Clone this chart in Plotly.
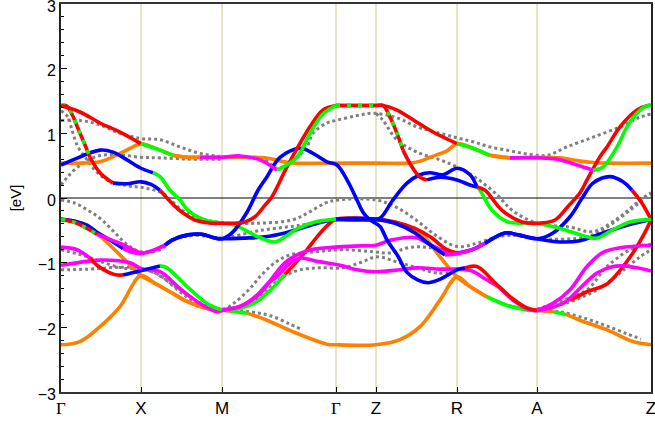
import plotly.graph_objects as go

# k-path: cumulative distance along Γ-X-M-Γ-Z-R-A-Z
kpath_pos = [0, 80, 161, 275, 315, 396, 476, 590]
kpath_labels = ["Γ", "X", "M", "Γ", "Z", "R", "A", "Z"]

# ---- fat bands: k nodes, energies (eV) and dominant character per interval ----
# r=red, g=green, b=blue, m=magenta, o=orange, y=red/green mixed
b1_k = [0, 19, 39, 59, 80, 99, 112, 126, 139, 161, 179, 199, 216, 236, 249, 262, 275, 315, 322, 336, 356, 372,
        396, 412, 429, 449, 476, 496, 516, 532, 542, 556, 566, 579, 587, 590]
b1_e = [1.43, 1.33, 1.16, 1.02, 0.84, 0.74, 0.66, 0.63, 0.63, 0.63, 0.65, 0.59, 0.43, 0.63, 1.0, 1.3, 1.43, 1.43,
        1.43, 1.36, 1.17, 1.02, 0.84, 0.77, 0.66, 0.62, 0.62, 0.60, 0.51, 0.43, 0.48, 0.79, 1.1, 1.36, 1.43, 1.43]
b1_c = "rrrr" + "gg" + "oo" + "mmmm" + "gggg" + "y" + "rrrrr" + "gg" + "o" + "mmmm" + "gggggg"

b2_k = [0, 20, 39, 59, 72, 80, 99, 112, 126, 139, 161, 179, 189, 206, 220, 232, 275, 315, 349, 359, 369, 386, 396,
        412, 429, 449, 476, 499, 519, 532, 549, 590]
b2_e = [0.54, 0.54, 0.56, 0.69, 0.79, 0.84, 0.74, 0.66, 0.63, 0.63, 0.63, 0.63, 0.63, 0.62, 0.57, 0.54, 0.54, 0.54,
        0.54, 0.57, 0.63, 0.73, 0.84, 0.77, 0.66, 0.62, 0.63, 0.62, 0.57, 0.55, 0.54, 0.54]
b2_c = "o" * 31

b3_k = [0, 6, 19, 29, 39, 52, 66, 80, 90, 99, 114, 121, 134, 151, 161, 174, 184, 194, 204, 211, 226, 249, 262, 275,
        315, 322, 329, 336, 342, 351, 359, 366, 379, 396, 409, 416, 424, 441, 461, 477, 494, 507, 519, 526, 539, 546,
        559, 576, 587, 590]
b3_e = [1.43, 1.42, 1.0, 0.63, 0.39, 0.23, 0.22, 0.25, 0.21, 0.12, -0.13, -0.22, -0.34, -0.39, -0.39, -0.39, -0.37,
        -0.29, -0.11, 0.02, 0.48, 1.1, 1.36, 1.43, 1.43, 1.43, 1.25, 1.0, 0.74, 0.48, 0.32, 0.28, 0.32, 0.28, 0.2,
        0.17, 0.12, -0.19, -0.37, -0.39, -0.34, -0.13, 0.08, 0.28, 0.64, 0.79, 1.1, 1.36, 1.43, 1.43]
b3_c = "yyyrr" + "bbbb" + "rrrrr" + "rrrrrrrrr" + "y" + "yyyyrrr" + "bbbb" + "rrrr" + "rrrrrrrrrr"

b4_k = [0, 12, 39, 52, 66, 80, 92, 99, 109, 119, 127, 144, 161, 174, 197, 214, 224, 237, 254, 275, 315, 320, 332,
        346, 359, 369, 382, 396, 409, 416, 419, 431, 447, 476, 499, 526, 536, 552, 569, 590]
b4_e = [0.51, 0.59, 0.74, 0.71, 0.59, 0.46, 0.39, 0.33, 0.12, -0.03, -0.19, -0.34, -0.39, -0.42, -0.6, -0.68, -0.6,
        -0.47, -0.37, -0.33, -0.33, -0.3, -0.03, 0.23, 0.36, 0.39, 0.36, 0.46, 0.36, 0.17, 0.12, -0.19, -0.37, -0.39,
        -0.47, -0.6, -0.62, -0.49, -0.37, -0.33]
b4_c = "bbbbbb" + "gggggg" + "ggggggg" + "b" + "bbbbbbbbb" + "gggg" + "gggggg"

b5_k = [0, 14, 26, 36, 49, 62, 72, 80, 94, 104, 111, 127, 141, 154, 161, 171, 186, 197, 206, 219, 239, 252, 266, 276,
        286, 296, 302, 309, 319, 326, 337, 346, 357, 367, 377, 387, 396, 404, 416, 434, 451, 466, 476, 492, 509, 526,
        542, 559, 590]
b5_e = [-0.33, -0.38, -0.47, -0.56, -0.64, -0.72, -0.8, -0.85, -0.80, -0.73, -0.65, -0.57, -0.56, -0.62, -0.63,
        -0.54, -0.22, 0.12, 0.33, 0.63, 0.77, 0.69, 0.56, 0.51, 0.28, -0.03, -0.22, -0.34, -0.44, -0.65, -0.9, -1.15,
        -1.27, -1.31, -1.27, -1.19, -1.11, -1.08, -1.06, -1.31, -1.55, -1.7, -1.74, -1.63, -1.42, -1.06, -0.84, -0.77,
        -0.73]
b5_c = "yyy" + "mmmm" + "mm" + "bbbbb" + "b" * 23 + "rrrrr" + "mmmmmm"

b6_k = [0, 14, 26, 38, 49, 62, 71, 80, 94, 104, 111, 127, 141, 154, 161, 184, 204, 224, 244, 261, 275, 315, 334, 354,
        367, 384, 396, 411, 424, 444, 457, 476, 499, 519, 542, 566, 590]
b6_e = [-0.33, -0.36, -0.42, -0.55, -0.65, -0.78, -0.84, -0.86, -0.80, -0.73, -0.65, -0.57, -0.56, -0.62, -0.63,
        -0.62, -0.6, -0.54, -0.45, -0.37, -0.33, -0.33, -0.39, -0.54, -0.7, -0.88, -0.86, -0.8, -0.7, -0.54, -0.57,
        -0.63, -0.68, -0.66, -0.54, -0.42, -0.33]
b6_c = "bbbbb" + "mm" + "mm" + "bbbbb" + "bbbbbb" + "b" + "bbbb" + "mmm" + "bbb" + "bbbbb"

b7_k = [0, 16, 29, 36, 49, 56, 62, 76, 86, 99, 106, 126, 146, 161, 179, 196, 206, 214, 224, 236, 250, 274, 300, 315,
        330, 354, 367, 384, 396]
b7_e = [-0.76, -0.8, -0.93, -1.04, -1.16, -1.19, -1.19, -1.14, -1.1, -1.05, -1.08, -1.37, -1.63, -1.73, -1.68, -1.52,
        -1.35, -1.18, -1.0, -0.88, -0.8, -0.76, -0.74, -0.73, -0.65, -0.61, -0.7, -0.83, -0.86]
b7_c = "mm" + "rrrr" + "bbb" + "gggg" + "m" * 10 + "mmmmm"

b8_k = [0, 26, 39, 69, 80, 99, 119, 139, 156, 161, 181, 196, 207, 217, 228, 239, 256, 279, 296, 315, 339, 356, 379,
        396, 411, 424, 437, 452, 469, 476, 503, 520, 536, 552, 562, 576, 590]
b8_e = [-1.04, -0.98, -0.96, -1.0, -1.09, -1.14, -1.4, -1.63, -1.76, -1.74, -1.66, -1.5, -1.32, -1.2, -1.02, -0.93,
        -0.98, -1.04, -1.11, -1.14, -1.11, -1.08, -1.1, -1.1, -1.13, -1.25, -1.37, -1.58, -1.73, -1.74, -1.62, -1.38,
        -1.16, -1.06, -1.05, -1.08, -1.13]
b8_c = "m" * 36

b9_k = [0, 16, 28, 40, 55, 68, 80, 94, 111, 126, 146, 161, 180, 196, 211, 224, 236, 246, 256, 266, 275, 315, 335,
        350, 362, 379, 388, 396, 409, 426, 446, 466, 476, 492, 509, 526, 546, 559, 574, 583, 590]
b9_e = [-0.33, -0.37, -0.45, -0.6, -0.82, -1.02, -1.2, -1.32, -1.47, -1.6, -1.71, -1.73, -1.7, -1.6, -1.4, -1.18,
        -0.98, -0.8, -0.6, -0.43, -0.33, -0.33, -0.38, -0.46, -0.58, -0.91, -1.08, -1.22, -1.37, -1.53, -1.66, -1.73,
        -1.74, -1.68, -1.58, -1.45, -1.33, -1.12, -0.8, -0.56, -0.34]
b9_c = "yy" + "oooo" + "ooooo" + "gggg" + "rrrrr" + "r" + "oooooo" + "ooggo" + "ggrrrrrr"

b10_k = [0, 19, 39, 59, 80, 94, 111, 126, 146, 161, 169, 186, 206, 232, 266, 275, 315, 339, 359, 379, 396, 409, 426,
         446, 466, 476, 492, 505, 519, 546, 572, 590]
b10_e = [-2.27, -2.22, -1.99, -1.68, -1.2, -1.32, -1.47, -1.6, -1.71, -1.73, -1.75, -1.78, -1.89, -2.07, -2.26, -2.27,
         -2.27, -2.19, -1.99, -1.58, -1.22, -1.37, -1.53, -1.66, -1.73, -1.74, -1.76, -1.8, -1.89, -2.04, -2.22, -2.27]
b10_c = "oooo" + "ooooo" + "og" + "oooo" + "o" + "oooo" + "ooggo" + "ogoooo"

b11_k = [275, 315, 334, 354, 371, 384, 396, 411, 424, 444, 457, 476, 492, 509, 522, 532, 549, 562, 571, 581, 590]
b11_e = [-0.33, -0.33, -0.37, -0.47, -0.62, -0.78, -0.85, -0.8, -0.7, -0.54, -0.57, -0.63, -0.54, -0.29, 0.02, 0.23,
         0.33, 0.25, 0.12, -0.08, -0.33]
b11_c = "r" + "rrrrr" + "bbbbb" + "bbbbbbb" + "rr"

# ---- second set of bands, drawn as grey dots ----
g1_k = [0, 19, 39, 59, 80, 99, 119, 139, 161, 189, 205, 216, 236, 246, 252, 266, 275, 295, 312, 336, 356, 379, 396,
        412, 429, 449, 466, 486, 506, 532, 559, 579, 590]
g1_e = [1.2, 1.2, 1.13, 1.0, 0.92, 0.9, 0.79, 0.69, 0.64, 0.62, 0.58, 0.46, 0.63, 0.79, 1.0, 1.16, 1.2, 1.27, 1.31,
        1.24, 1.1, 1.0, 0.93, 0.87, 0.79, 0.73, 0.68, 0.66, 0.79, 0.94, 1.1, 1.25, 1.3]
g2_k = [0, 7, 11, 17, 26, 34, 46, 66, 82, 102, 121, 137, 161, 197, 231, 247, 264, 277, 315, 335, 355, 375, 396, 416,
        436, 456, 476, 526, 546, 569, 586, 590]
g2_e = [1.35, 1.25, 1.05, 0.79, 0.59, 0.43, 0.28, 0.19, 0.16, 0.07, -0.19, -0.31, -0.38, -0.39, -0.34, -0.23, -0.08,
        -0.03, -0.03, -0.14, -0.34, -0.58, -0.75, -0.7, -0.6, -0.58, -0.63, -0.6, -0.45, -0.19, 0.02, 0.05]
g3_k = [315, 322, 336, 356, 379, 396, 416, 436, 452, 476, 509, 532, 559, 579, 590]
g3_e = [1.31, 1.2, 0.9, 0.71, 0.59, 0.48, 0.3, 0.05, -0.2, -0.39, -0.45, -0.52, -0.29, -0.03, 0.08]
g4_k = [0, 14, 27, 41, 54, 67, 80, 99, 111, 130, 150, 161, 200, 240, 275]
g4_e = [-0.03, -0.08, -0.19, -0.34, -0.54, -0.73, -0.83, -0.8, -0.66, -0.58, -0.6, -0.62, -0.5, -0.42, -0.33]
g5_k = [0, 27, 41, 61, 80, 94, 119, 139, 161, 189, 206, 222, 239, 259, 282, 299, 316, 336, 356, 376, 396]
g5_e = [-0.8, -0.91, -0.99, -1.08, -1.1, -1.16, -1.42, -1.62, -1.72, -1.63, -1.42, -1.22, -1.11, -1.08, -1.08, -1.0,
        -0.91, -0.99, -1.08, -1.16, -1.14]
g6_k = [0, 27, 47, 61, 77, 80, 99, 119, 139, 161, 175, 189, 200, 214, 229, 256, 282, 312, 329, 350, 370, 396]
g6_e = [-1.11, -1.1, -1.08, -1.07, -1.08, -1.09, -1.2, -1.45, -1.66, -1.73, -1.6, -1.4, -1.2, -1.0, -0.88, -0.83,
        -0.8, -0.83, -0.85, -0.76, -0.77, -0.85]
g7_k = [161, 189, 209, 229, 239]
g7_e = [-1.73, -1.76, -1.82, -1.95, -2.02]
g8_k = [476, 499, 526, 546, 566, 580]
g8_e = [-1.74, -1.76, -1.87, -1.98, -2.1, -2.18]
g9_k = [476, 502, 526, 546, 569, 582, 590]
g9_e = [-1.72, -1.58, -1.42, -1.06, -0.8, -0.73, -0.72]
g10_k = [476, 510, 536, 559, 579, 590]
g10_e = [-1.74, -1.6, -1.42, -1.16, -0.91, -0.8]
g11_k = [0, 8, 20, 35, 55, 80, 100, 130, 161]
g11_e = [0.2, 0.35, 0.52, 0.64, 0.67, 0.63, 0.62, 0.6, 0.6]

COLORS = {"r": "#ff0000", "g": "#00ff00", "b": "#0000ff", "m": "#ff00ff", "o": "#ff8000", "y": "#ff0000"}
LW = 3.6

fig = go.Figure()


def add_dotted(k, e):
    fig.add_trace(go.Scatter(x=k, y=e, mode="lines", hoverinfo="skip", showlegend=False,
                             line=dict(color="#7f7f7f", width=3, dash="3px,3px", shape="spline", smoothing=1.0)))


def add_band(k, e, codes):
    assert len(k) == len(e) == len(codes) + 1, (len(k), len(e), len(codes))
    i, n = 0, len(codes)
    while i < n:
        j = i
        while j + 1 < n and codes[j + 1] == codes[i]:
            j += 1
        xs, ys = k[i:j + 2], e[i:j + 2]
        fig.add_trace(go.Scatter(x=xs, y=ys, mode="lines", hoverinfo="skip", showlegend=False,
                                 line=dict(color=COLORS[codes[i]], width=LW, shape="spline", smoothing=1.0)))
        if codes[i] == "y":
            fig.add_trace(go.Scatter(x=xs, y=ys, mode="lines", hoverinfo="skip", showlegend=False,
                                     line=dict(color="#00ff00", width=LW, dash="4px,7px",
                                               shape="spline", smoothing=1.0)))
        i = j + 1


for gk, ge in [(g1_k, g1_e), (g2_k, g2_e), (g3_k, g3_e), (g4_k, g4_e), (g5_k, g5_e), (g6_k, g6_e),
               (g7_k, g7_e), (g8_k, g8_e), (g9_k, g9_e), (g10_k, g10_e), (g11_k, g11_e)]:
    add_dotted(gk, ge)

for bk, be, bc in [(b10_k, b10_e, b10_c), (b9_k, b9_e, b9_c), (b8_k, b8_e, b8_c), (b7_k, b7_e, b7_c),
                   (b2_k, b2_e, b2_c), (b11_k, b11_e, b11_c), (b6_k, b6_e, b6_c), (b4_k, b4_e, b4_c),
                   (b5_k, b5_e, b5_c), (b3_k, b3_e, b3_c), (b1_k, b1_e, b1_c)]:
    add_band(bk, be, bc)

# high-symmetry guide lines and Fermi level
for kv in kpath_pos[1:-1]:
    fig.add_shape(type="line", xref="x", yref="paper", x0=kv, x1=kv, y0=0, y1=1,
                  line=dict(color="#d6d29c", width=1.2), layer="below")
fig.add_shape(type="line", xref="paper", yref="y", x0=0, x1=1, y0=0, y1=0,
              line=dict(color="black", width=1), layer="below")

tick_text = ["<span style='font-family:Liberation Serif'>Γ</span>" if t == "Γ" else t for t in kpath_labels]

fig.update_layout(
    width=655, height=424,
    margin=dict(l=61, r=4, t=4, b=32, autoexpand=False),
    paper_bgcolor="white", plot_bgcolor="white",
    font=dict(family="Liberation Sans, Arial, sans-serif", size=16, color="black"),
    xaxis=dict(range=[0, 590], tickvals=kpath_pos, ticktext=tick_text, ticks="inside", ticklen=5,
               tickcolor="black", showgrid=False, zeroline=False, showline=True, mirror=True,
               linecolor="#333333", linewidth=1.8, automargin=False, ticklabeloverflow="allow",
               tickfont=dict(size=17)),
    yaxis=dict(range=[-3, 3], tickvals=[-3, -2, -1, 0, 1, 2, 3], ticks="inside", ticklen=6,
               tickcolor="black", showgrid=False, zeroline=False, showline=True, mirror=True,
               linecolor="#222222", linewidth=1.8, ticklabeloverflow="allow", automargin=False,
               ticklabelshift=2,
               minor=dict(dtick=0.2, ticks="inside", ticklen=3, tickcolor="black"),
               title=dict(text="[eV]", font=dict(size=15), standoff=12)),
)

fig.write_html("out.html")
